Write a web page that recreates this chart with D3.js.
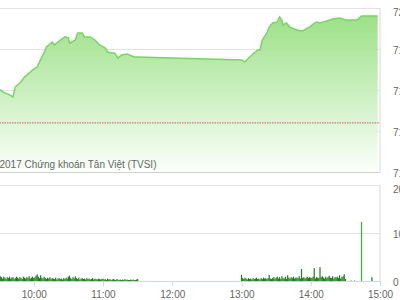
<!DOCTYPE html>
<html>
<head>
<meta charset="utf-8">
<script src="https://cdn.jsdelivr.net/npm/d3@7"></script>
<style>
  body { margin: 0; background: #fff; }
  svg { display: block; font-family: 'Liberation Sans', Arial, sans-serif; }
</style>
</head>
<body>
<div id="chart"></div>
<script>
// Price data (index points, intraday)
const priceTimes = ['09:15','09:20','09:25','09:31','09:35','09:38','09:42','09:44','09:48','09:52','09:57','09:59',
  '10:03','10:05','10:08','10:11','10:16','10:18','10:23','10:27','10:30','10:31','10:36','10:38','10:42','10:44',
  '10:49','10:53','10:57','11:02','11:04','11:08','11:10','11:13','11:16','11:21','11:23','11:27','11:30',
  '13:00','13:03','13:07','13:14','13:16','13:18','13:22','13:24','13:27','13:31','13:33','13:35','13:36','13:39',
  '13:42','13:44','13:48','13:53','13:57','13:59','14:02','14:05','14:08','14:14','14:19','14:25','14:31','14:40',
  '14:44','14:58'];
const priceValues = [716.2,715.9,716.1,716.0,715.85,715.8,715.66,716.15,716.34,716.63,716.88,716.98,
  717.12,717.37,717.71,718.1,718.34,718.2,718.44,718.59,718.54,718.29,718.44,718.78,718.78,718.59,
  718.59,718.44,718.2,718.05,717.85,717.8,717.8,717.56,717.71,717.76,717.71,717.61,717.61,
  717.46,717.37,717.61,717.95,717.95,718.44,718.78,719.07,719.27,719.32,719.56,719.41,719.17,719.27,
  719.07,719.02,718.93,718.88,719.02,719.07,719.22,719.32,719.27,719.37,719.46,719.51,719.41,719.41,
  719.61,719.61];
const refPrice = 714.4;

// Volume per minute: morning from 09:15, afternoon from 13:00
const amStart = '09:15';
const amVolumes = [14,10,12,9,11,8,10,9,12,8,7,9,10,8,9,11,
  10,8,5,9,7,4,8,6,9,5,7,8,4,6,9,
  7,5,8,6,4,9,7,5,8,6,10,5,7,9,6,
  8,11,14,9,6,12,7,5,9,6,4,7,5,8,4,
  6,5,4,7,3,5,6,4,5,3,6,4,7,5,9,
  11,6,4,8,5,10,6,4,7,3,5,6,4,5,3,
  6,4,5,3,4,6,3,5,4,3,5,4,3,4,5,
  3,4,2,5,3,4,2,3,4,3,2,4,3,2,3,
  2,3,2,4,2,3,2,2,3,2,3,2,2,3,4];
const pmStart = '13:00';
const pmVolumes = [13,6,4,7,5,3,6,4,5,3,6,4,5,7,4,
  5,3,6,4,7,5,6,4,6,13,5,4,6,8,5,
  7,9,5,8,4,10,6,5,9,4,12,7,5,8,6,
  9,5,7,7,6,10,5,25,6,8,5,7,9,6,8,
  7,6,9,27,5,8,7,6,29,8,10,7,5,9,6,
  8,11,7,6,10,5,8,7,9,6,12,5,8,10,14,
  4];
const lateTimes = ['14:35','14:38','14:44','14:53'];
const lateVolumes = [1,1,123,8];

// Axis ticks
const hourTicks = ['10:00','11:00','12:00','13:00','14:00','15:00'];
const priceTicks = [712,714,716,718,720];
const volTicks = [0,100,200];
const creditText = '2017 Chứng khoán Tân Việt (TVSI)';

// Layout
const width = 400, height = 300;
const plotLeft = -35.5, plotRight = 380;
const priceTop = 8, priceBottom = 172;
const volTop = 185, volBottom = 281;

const parse = d3.timeParse('%H:%M');

const svg = d3.select('#chart').append('svg')
  .attr('width', width).attr('height', height);

const x = d3.scaleTime()
  .domain([parse('09:00'), parse('15:00')])
  .range([plotLeft, plotRight]);
const yPrice = d3.scaleLinear().domain([712, 720]).range([priceBottom, priceTop]);
const yVol = d3.scaleLinear().domain([0, 200]).range([volBottom, volTop]);

const prices = priceTimes.map((t, i) => ({ t: parse(t), v: priceValues[i] }));
const vols = []
  .concat(amVolumes.map((v, i) => ({ t: d3.timeMinute.offset(parse(amStart), i), v })))
  .concat(pmVolumes.map((v, i) => ({ t: d3.timeMinute.offset(parse(pmStart), i), v })))
  .concat(lateTimes.map((t, i) => ({ t: parse(t), v: lateVolumes[i] })));

// Gridlines
const gridPrice = d3.axisLeft(yPrice).tickValues(priceTicks)
  .tickSize(plotRight - plotLeft).tickFormat('');
svg.append('g').attr('transform', `translate(${plotRight},0)`).call(gridPrice)
  .call(g => g.select('.domain').remove())
  .selectAll('line').attr('stroke', '#e3e3e3');

const gridVol = d3.axisLeft(yVol).tickValues(volTicks)
  .tickSize(plotRight - plotLeft).tickFormat('');
svg.append('g').attr('transform', `translate(${plotRight},0)`).call(gridVol)
  .call(g => g.select('.domain').remove())
  .selectAll('line').attr('stroke', '#e3e3e3');

// Area gradient
const grad = svg.append('defs').append('linearGradient')
  .attr('id', 'areaGrad').attr('gradientUnits', 'userSpaceOnUse')
  .attr('x1', 0).attr('x2', 0).attr('y1', priceTop).attr('y2', priceBottom);
grad.append('stop').attr('offset', '0%').attr('stop-color', '#8cdc74');
grad.append('stop').attr('offset', '100%').attr('stop-color', '#fbfffa');

const area = d3.area().x(d => x(d.t)).y0(priceBottom).y1(d => yPrice(d.v));
const line = d3.line().x(d => x(d.t)).y(d => yPrice(d.v));

svg.append('path').datum(prices).attr('d', area)
  .attr('fill', 'url(#areaGrad)').attr('fill-opacity', 0.9);
svg.append('path').datum(prices).attr('d', line)
  .attr('fill', 'none').attr('stroke', '#7ad465').attr('stroke-width', 1.5);

// Reference (previous close) line
svg.append('line')
  .attr('x1', plotLeft).attr('x2', plotRight)
  .attr('y1', yPrice(refPrice)).attr('y2', yPrice(refPrice))
  .attr('stroke', '#c7806d').attr('stroke-width', 1.3)
  .attr('stroke-dasharray', '1.5,1');

// Panel borders
svg.append('line').attr('x1', plotRight).attr('x2', plotRight)
  .attr('y1', priceTop).attr('y2', priceBottom).attr('stroke', '#d8d8d8');
svg.append('line').attr('x1', plotLeft).attr('x2', plotRight)
  .attr('y1', priceBottom + 0.5).attr('y2', priceBottom + 0.5).attr('stroke', '#d0d0d0');
svg.append('line').attr('x1', plotRight).attr('x2', plotRight)
  .attr('y1', volTop).attr('y2', volBottom).attr('stroke', '#d8d8d8');

// Volume bars
svg.selectAll('.vol').data(vols).enter().append('rect')
  .attr('class', 'vol')
  .attr('x', d => x(d.t) - 0.6)
  .attr('width', 1.2)
  .attr('y', d => yVol(d.v))
  .attr('height', d => volBottom - yVol(d.v))
  .attr('fill', d => d.v > 50 ? '#3fa83f' : '#1d7d1d');

// X axis
const xAxis = d3.axisBottom(x)
  .tickValues(hourTicks.map(parse))
  .tickFormat(d3.timeFormat('%H:%M'))
  .tickSizeInner(5).tickSizeOuter(0).tickPadding(5);
const gx = svg.append('g').attr('transform', `translate(0,${volBottom})`).call(xAxis);
gx.select('.domain').attr('stroke', '#ccd6eb');
gx.selectAll('line').attr('stroke', '#ccd6eb');
gx.selectAll('text').attr('fill', '#666').style('font-size', '10px');

// Right y labels
const yAxisP = d3.axisRight(yPrice).tickValues(priceTicks).tickSize(0).tickPadding(0);
const gp = svg.append('g').attr('transform', 'translate(393,1)').call(yAxisP);
gp.select('.domain').remove();
gp.selectAll('text').attr('fill', '#666').style('font-size', '10px')
  .attr('dy', d => d === 720 ? '0.6em' : '0.32em');

const yAxisV = d3.axisRight(yVol).tickValues(volTicks).tickSize(0).tickPadding(0);
const gv = svg.append('g').attr('transform', 'translate(393,1)').call(yAxisV);
gv.select('.domain').remove();
gv.selectAll('text').attr('fill', '#666').style('font-size', '10px')
  .attr('dy', d => d === 200 ? '0.6em' : '0.32em');

// Credit
svg.append('text')
  .attr('x', -0.5).attr('y', 168)
  .attr('fill', '#666')
  .style('font-size', '10px')
  .text(creditText);
</script>
</body>
</html>
